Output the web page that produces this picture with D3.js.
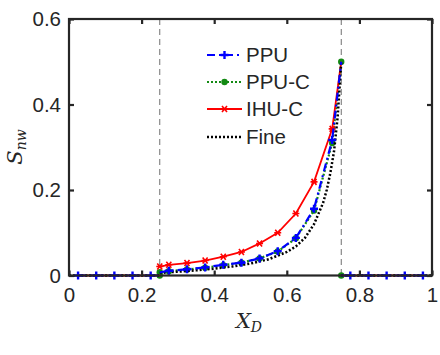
<!DOCTYPE html>
<html>
<head>
<meta charset="utf-8">
<script src="https://cdn.jsdelivr.net/npm/d3@7"></script>
<style>
  body { margin: 0; background: #fff; }
  text { font-family: "Liberation Sans", Arial, sans-serif; fill: #262626; }
</style>
</head>
<body>
<svg width="440" height="355"></svg>
<script>
// cell centres outside the plume (zero saturation)
var outsideX = [0.025, 0.075, 0.125, 0.175, 0.225, 0.775, 0.825, 0.875, 0.925, 0.975];
// cell centres inside
var innerX = [0.275, 0.325, 0.375, 0.425, 0.475, 0.525, 0.575, 0.625, 0.675, 0.725];
var ppu   = [0.011, 0.0145, 0.019, 0.025, 0.030, 0.040, 0.057, 0.088, 0.156, 0.317];
var ppuC  = [0.010, 0.014, 0.018, 0.024, 0.030, 0.040, 0.056, 0.087, 0.152, 0.310];
var ihuC  = [0.025, 0.029, 0.035, 0.044, 0.055, 0.075, 0.100, 0.145, 0.219, 0.343];
// boundary values at x=0.25 and x=0.75
var ppuCLeft = 0.0075, ihuCLeft = 0.021, rightTop = 0.5;
// fine grid reference (inside the plume)
var fineX = [0.25, 0.3, 0.35, 0.4, 0.45, 0.5, 0.55, 0.6, 0.625, 0.65, 0.675, 0.7, 0.71, 0.72, 0.73, 0.74, 0.75];
var fineY = [0.006, 0.009, 0.012, 0.016, 0.021, 0.028, 0.038, 0.055, 0.068, 0.088, 0.12, 0.17, 0.20, 0.24, 0.29, 0.37, 0.5];
var xTicks = [0, 0.2, 0.4, 0.6, 0.8, 1];
var yTicks = [0, 0.2, 0.4, 0.6];
var fronts = [0.25, 0.75];

var svg = d3.select("svg");
var x = d3.scaleLinear().domain([0, 1]).range([69, 432]);
var y = d3.scaleLinear().domain([0, 0.6]).range([275.5, 19]);

var line = d3.line().x(function(d) { return x(d[0]); }).y(function(d) { return y(d[1]); });
var ink = "#262626";

// front positions
svg.selectAll(".front").data(fronts).enter().append("line")
    .attr("x1", function(d) { return x(d); }).attr("x2", function(d) { return x(d); })
    .attr("y1", y(0.6)).attr("y2", y(0))
    .style("stroke", "#707070").style("stroke-width", 1).style("stroke-dasharray", "6,4");

function zip(xs, ys) { return xs.map(function(v, i) { return [v, ys[i]]; }); }
var zeroLeft = outsideX.slice(0, 5).map(function(v) { return [v, 0]; }).concat([[0.25, 0]]);
var zeroRight = [[0.75, 0]].concat(outsideX.slice(5).map(function(v) { return [v, 0]; }));

var series = [
  { name: "PPU", color: "#0000ff", dash: "8,4,2,4", width: 2.2, marker: "plus",
    segs: [zeroLeft, [[0.25, ppuCLeft]].concat(zip(innerX, ppu), [[0.75, rightTop]]), zeroRight],
    markPts: zip(innerX, ppu).concat(outsideX.map(function(v) { return [v, 0]; })) },
  { name: "PPU-C", color: "#138a13", dash: "2,2", width: 2.2, marker: "dot",
    segs: [zeroLeft, [[0.25, ppuCLeft]].concat(zip(innerX, ppuC), [[0.75, rightTop]]), zeroRight],
    markPts: [[0.25, 0], [0.25, ppuCLeft]].concat(zip(innerX, ppuC), [[0.75, rightTop], [0.75, 0]]) },
  { name: "IHU-C", color: "#ff0000", dash: null, width: 1.8, marker: "star",
    segs: [zeroLeft, [[0.25, ihuCLeft]].concat(zip(innerX, ihuC), [[0.75, rightTop]]), zeroRight],
    markPts: [[0.25, ihuCLeft]].concat(zip(innerX, ihuC)) },
  { name: "Fine", color: "#000000", dash: "2,2", width: 2.5, marker: null,
    segs: [[[0, 0], [0.25, 0]], zip(fineX, fineY), [[0.75, 0], [1, 0]]], markPts: [] }
];

function drawMarker(g, kind, color, cx, cy) {
  if (kind === "plus") {
    g.append("path").attr("d", "M" + (cx - 4) + "," + cy + "H" + (cx + 4) + "M" + cx + "," + (cy - 4) + "V" + (cy + 4))
      .style("stroke", color).style("stroke-width", 2.4).style("fill", "none");
  } else if (kind === "dot") {
    g.append("circle").attr("cx", cx).attr("cy", cy).attr("r", 3.2).style("fill", color);
  } else if (kind === "star") {
    g.append("path").attr("d", "M" + (cx - 3.5) + "," + cy + "H" + (cx + 3.5) +
        "M" + (cx - 2.5) + "," + (cy - 3) + "L" + (cx + 2.5) + "," + (cy + 3) +
        "M" + (cx + 2.5) + "," + (cy - 3) + "L" + (cx - 2.5) + "," + (cy + 3))
      .style("stroke", color).style("stroke-width", 1.6).style("fill", "none");
  }
}

// draw series, lines then markers (PPU markers last so they sit on top outside)
var order = [1, 2, 3, 0];
order.forEach(function(i) {
  var s = series[i];
  var g = svg.append("g");
  s.segs.forEach(function(seg) {
    g.append("path").attr("d", line(seg))
      .style("fill", "none").style("stroke", s.color).style("stroke-width", s.width)
      .style("stroke-dasharray", s.dash);
  });
  s.markPts.forEach(function(p) { drawMarker(g, s.marker, s.color, x(p[0]), y(p[1])); });
});

// axes box
var box = svg.append("g");
box.append("rect").attr("x", x(0)).attr("y", y(0.6)).attr("width", x(1) - x(0)).attr("height", y(0) - y(0.6))
  .style("fill", "none").style("stroke", ink).style("stroke-width", 2.2);

var xAxB = d3.axisBottom(x).tickValues(xTicks).tickSize(-5).tickPadding(12).tickFormat(d3.format("~g"));
var xAxT = d3.axisTop(x).tickValues(xTicks).tickSize(-5).tickFormat("");
var yAxL = d3.axisLeft(y).tickValues(yTicks).tickSize(-5).tickPadding(8).tickFormat(d3.format("~g"));
var yAxR = d3.axisRight(y).tickValues(yTicks).tickSize(-5).tickFormat("");

function styleAxis(g) {
  g.select(".domain").remove();
  g.selectAll(".tick line").style("stroke", ink).style("stroke-width", 2.2);
  g.selectAll(".tick text").style("font-size", "20.5px").style("fill", ink).attr("font-family", null);
}
svg.append("g").attr("transform", "translate(0," + y(0) + ")").call(xAxB).call(styleAxis);
svg.append("g").attr("transform", "translate(0," + y(0.6) + ")").call(xAxT).call(styleAxis);
svg.append("g").attr("transform", "translate(" + x(0) + ",0)").call(yAxL).call(styleAxis);
svg.append("g").attr("transform", "translate(" + x(1) + ",0)").call(yAxR).call(styleAxis);

// axis labels
var xl = svg.append("text").attr("x", 249).attr("y", 328).attr("text-anchor", "middle")
  .style("font-family", "'DejaVu Serif', 'Liberation Serif', serif").style("font-style", "italic").style("font-size", "21px");
xl.append("tspan").text("X");
xl.append("tspan").attr("dy", 4).style("font-size", "14px").text("D");

var yl = svg.append("text").attr("transform", "translate(22,147) rotate(-90)").attr("text-anchor", "middle")
  .style("font-family", "'DejaVu Serif', 'Liberation Serif', serif").style("font-style", "italic").style("font-size", "21px");
yl.append("tspan").text("S");
yl.append("tspan").attr("dy", 4).style("font-size", "14px").text("nw");

// legend
var legY = [55, 82, 109, 137];
series.forEach(function(s, i) {
  var g = svg.append("g");
  var yy = legY[i];
  g.append("line").attr("x1", 207).attr("x2", 242).attr("y1", yy).attr("y2", yy)
    .style("stroke", s.color).style("stroke-width", s.width).style("stroke-dasharray", s.dash);
  if (s.marker) drawMarker(g, s.marker, s.color, 224.5, yy);
  g.append("text").attr("x", 246).attr("y", yy).attr("dy", "0.35em").style("font-size", "20.5px").text(s.name);
});
</script>
</body>
</html>
